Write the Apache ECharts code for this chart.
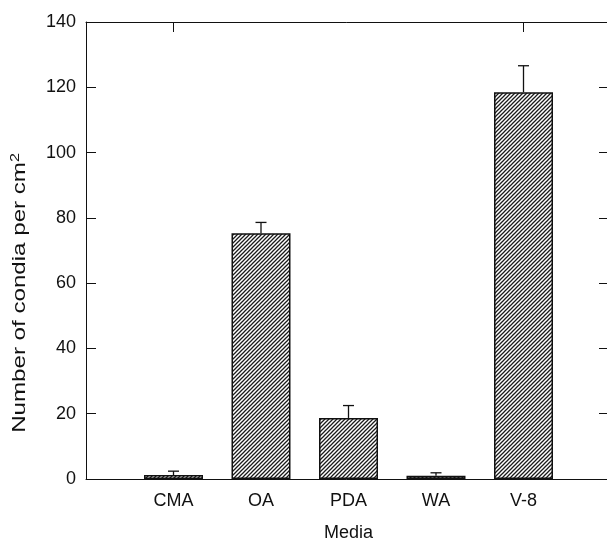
<!DOCTYPE html>
<html><head><meta charset="utf-8">
<script src="https://cdn.jsdelivr.net/npm/echarts@6/dist/echarts.min.js"></script>
<style>html,body{margin:0;padding:0;background:#fff}#c{width:607px;height:542px}</style>
</head><body><div id="c"></div>
<script>
var categories = ['CMA', 'OA', 'PDA', 'WA', 'V-8'];
var means = [1.2, 75.3, 18.7, 1.0, 118.5];
var errors = [1.2, 3.3, 3.8, 0.9, 8.1];
var yTicks = [0, 20, 40, 60, 80, 100, 120, 140];

var pc = document.createElement('canvas');
pc.width = 4; pc.height = 4;
var g = pc.getContext('2d');
g.fillStyle = '#fff'; g.fillRect(0, 0, 4, 4);
g.strokeStyle = '#1a1a1a'; g.lineWidth = 1.25;
g.beginPath(); g.moveTo(-1, 5); g.lineTo(5, -1); g.stroke();
g.beginPath(); g.moveTo(-1, 1); g.lineTo(1, -1); g.stroke();
g.beginPath(); g.moveTo(3, 5); g.lineTo(5, 3); g.stroke();

var barData = means.map(function (v, i) { return [i + 1, v]; });
var errData = means.map(function (v, i) { return [i + 1, v, v + errors[i]]; });
var font = 'Liberation Sans, Arial, sans-serif';

var chart = echarts.init(document.getElementById('c'));
chart.setOption({
  animation: false,
  grid: { left: 86, width: 525, top: 22, height: 457, containLabel: false, outerBoundsMode: 'none' },
  graphic: [{
    type: 'text', x: 20, y: 293, rotation: Math.PI / 2, scaleX: 1.34,
    style: {
      text: '{a|Number of condia per cm}{s|2}',
      align: 'center', verticalAlign: 'middle',
      rich: {
        a: { fill: '#111', fontFamily: font, fontSize: 18 },
        s: { fill: '#111', fontFamily: font, fontSize: 12, verticalAlign: 'top', padding: [0, 0, 8, 0] }
      }
    }
  }],
  xAxis: [{
    type: 'value', min: 0, max: 6, interval: 1, position: 'bottom',
    axisLine: { onZero: false, lineStyle: { color: '#111', width: 1 } },
    axisTick: { show: false },
    splitLine: { show: false },
    axisLabel: {
      color: '#111', fontFamily: font, fontSize: 18, margin: 13,
      formatter: function (v) { return categories[v - 1] || ''; }
    },
    name: 'Media', nameLocation: 'middle', nameGap: 45,
    nameTextStyle: { color: '#111', fontFamily: font, fontSize: 18 }
  }, {
    type: 'value', min: 0, max: 6, interval: 1, position: 'top',
    axisLine: { show: true, onZero: false, lineStyle: { color: '#111', width: 1 } },
    axisTick: { show: true, inside: true, length: 10, customValues: [1, 5], lineStyle: { color: '#111' } },
    axisLabel: { show: false }, splitLine: { show: false }
  }],
  yAxis: [{
    type: 'value', min: 0, max: 140, interval: 20, position: 'left',
    axisLine: { show: true, onZero: false, lineStyle: { color: '#111', width: 1 } },
    axisTick: { show: true, inside: true, length: 10, lineStyle: { color: '#111' } },
    splitLine: { show: false },
    axisLabel: { color: '#111', fontFamily: font, fontSize: 18, margin: 10,
      formatter: function (v) { return yTicks.indexOf(v) >= 0 ? String(v) : ''; } }
  }, {
    type: 'value', min: 0, max: 140, interval: 20, position: 'right',
    axisLine: { show: true, onZero: false, lineStyle: { color: '#111', width: 1 } },
    axisTick: { show: true, inside: true, length: 12, lineStyle: { color: '#111' } },
    axisLabel: { show: false }, splitLine: { show: false }
  }],
  series: [{
    type: 'bar', xAxisIndex: 0, yAxisIndex: 0, barWidth: 59,
    data: barData,
    itemStyle: { color: { image: pc, repeat: 'repeat' }, borderColor: '#111', borderWidth: 1.5 }
  }, {
    type: 'custom', xAxisIndex: 0, yAxisIndex: 0, z: 5,
    data: errData,
    renderItem: function (params, api) {
      var x = api.value(0);
      var lo = api.coord([x, api.value(1)]);
      var hi = api.coord([x, api.value(2)]);
      var style = { stroke: '#111', lineWidth: 1.3 };
      return { type: 'group', children: [
        { type: 'line', shape: { x1: lo[0], y1: lo[1], x2: hi[0], y2: hi[1] }, style: style },
        { type: 'line', shape: { x1: hi[0] - 5.5, y1: hi[1], x2: hi[0] + 5.5, y2: hi[1] }, style: style }
      ] };
    }
  }]
});
</script></body></html>
